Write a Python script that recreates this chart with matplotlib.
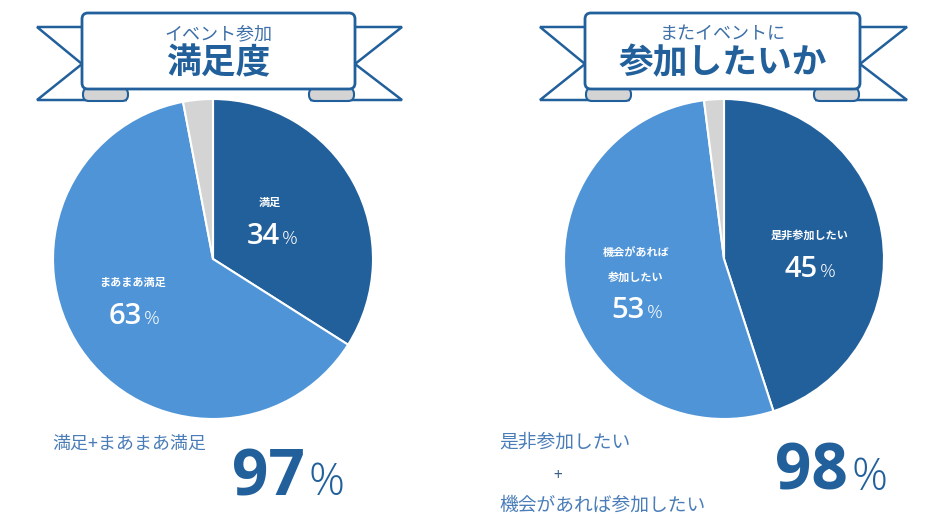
import matplotlib.pyplot as plt
from matplotlib.patches import Polygon, FancyBboxPatch

plt.rcParams['font.family'] = ['Noto Sans CJK JP', 'DejaVu Sans']

# data
sat_labels = ['満足', 'まあまあ満足', 'その他']
sat_values = [34, 63, 3]
again_labels = ['是非参加したい', '機会があれば\n参加したい', 'その他']
again_values = [45, 53, 2]
sat_total = 97
again_total = 98

DARK = '#22609c'
LIGHT = '#4f94d7'
GRAY = '#d4d4d4'
TXT = '#4a7db8'
H = 526

fig = plt.figure(figsize=(9.37, 5.26), dpi=100)
ax = fig.add_axes([0, 0, 1, 1])


def Y(y):
    return H - y


def ribbon(x0, x1, small, big):
    # tails
    top, bot, notch = 27, 100, 64
    for side in (0, 1):
        if side == 0:
            xe, xo, xf = x0, x0 - 45, x0 + 45
        else:
            xe, xo, xf = x1, x1 + 47, x1 - 45
        tail = Polygon([(xe, Y(top)), (xo, Y(top)), (xe, Y(notch)), (xo, Y(bot)), (xf, Y(bot))],
                       closed=False, facecolor='white', edgecolor=DARK, lw=1.8, zorder=1)
        ax.add_patch(tail)
        fx = x0 + 1 if side == 0 else x1 - 46
        fold = FancyBboxPatch((fx, Y(101)), 45, 13, boxstyle='round,pad=0,rounding_size=6',
                              facecolor=GRAY, edgecolor=DARK, lw=1.5, zorder=2)
        ax.add_patch(fold)
    main = FancyBboxPatch((x0, Y(89)), x1 - x0, 76, boxstyle='round,pad=0,rounding_size=6',
                          facecolor='white', edgecolor=DARK, lw=2, zorder=3)
    ax.add_patch(main)
    cx = (x0 + x1) / 2
    ax.text(cx, Y(34), small, fontsize=13, color='#3d6fa8', ha='center', va='center', zorder=4)
    ax.text(cx, Y(63), big, fontsize=25, color=DARK, fontweight='bold', ha='center', va='center', zorder=4)


def pct(x, y, value, size, color, psize, weight='bold'):
    ax.text(x, y, str(value), fontsize=size, color=color, fontweight=weight,
            family=['Open Sans'], ha='right', va='baseline', zorder=5)
    ax.text(x + size * 0.08, y, '%', fontsize=psize, color=color, fontweight='light',
            family=['Open Sans'], ha='left', va='baseline', zorder=5)


ax.pie(sat_values, colors=[DARK, LIGHT, GRAY], startangle=90, counterclock=False,
       center=(213, Y(259)), radius=160, wedgeprops=dict(edgecolor='white', linewidth=1.5))
ax.pie(again_values, colors=[DARK, LIGHT, GRAY], startangle=90, counterclock=False,
       center=(724, Y(259)), radius=160, wedgeprops=dict(edgecolor='white', linewidth=1.5))

ribbon(82, 355, 'イベント参加', '満足度')
ribbon(585, 860, 'またイベントに', '参加したいか')

# slice labels
ax.text(270, Y(202), sat_labels[0], fontsize=8, color='white', fontweight='bold', ha='center', va='center')
pct(280, Y(244), sat_values[0], 21, 'white', 14, 'semibold')
ax.text(133, Y(282), sat_labels[1], fontsize=8, color='white', fontweight='bold', ha='center', va='center')
pct(142, Y(324), sat_values[1], 21, 'white', 14, 'semibold')

ax.text(810, Y(235), again_labels[0], fontsize=8, color='white', fontweight='bold', ha='center', va='center')
pct(818, Y(277), again_values[0], 21, 'white', 14, 'semibold')
ax.text(636, Y(265), again_labels[1], fontsize=8, color='white', fontweight='bold', ha='center', va='center',
        linespacing=2.2)
pct(645, Y(318), again_values[1], 21, 'white', 14, 'semibold')

# totals
ax.text(52, Y(444), '満足+まあまあ満足', fontsize=13, color=TXT, ha='left', va='center')
pct(305, Y(495), sat_total, 46, DARK, 32)

ax.text(499, Y(442), '是非参加したい', fontsize=13.5, color=TXT, ha='left', va='center')
ax.text(558, Y(475), '+', fontsize=11, color='#3d5f8a', ha='center', va='center')
ax.text(499, Y(505), '機会があれば参加したい', fontsize=13.5, color=TXT, ha='left', va='center')
pct(848, Y(490), again_total, 46, DARK, 32)

ax.set_xlim(0, 937)
ax.set_ylim(0, H)
ax.set_aspect('equal')
ax.axis('off')

plt.savefig('out.png', dpi=100)
